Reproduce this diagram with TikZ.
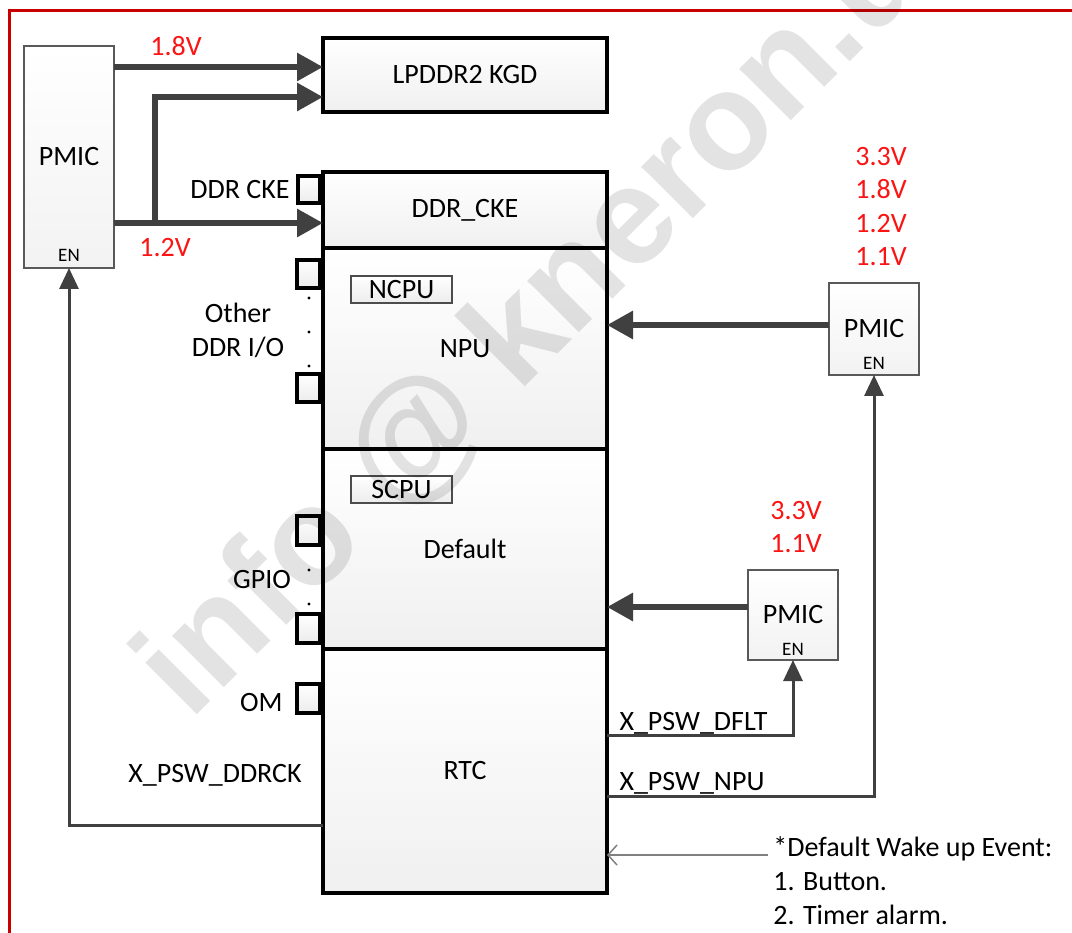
\documentclass[tikz,border=0pt]{standalone}
\usepackage{fontspec}
\setmainfont{Carlito}
\newfontfamily\wmfont{Liberation Sans}
\usepackage{tikz}
\usetikzlibrary{arrows.meta,positioning}

\definecolor{wire}{RGB}{64,64,64}
\definecolor{framered}{RGB}{200,0,0}
\definecolor{voltred}{RGB}{250,20,20}

\begin{document}
\begin{tikzpicture}[x=1pt, y=-1pt, thick]
    % Stili
    \tikzstyle{block}=[rectangle, draw=black, line width=4.5pt, top color=white, bottom color=gray!12, minimum width=284pt, inner sep=0pt, outer sep=0pt, font=\fontsize{28}{34}\selectfont]
    \tikzstyle{pinbox}=[rectangle, draw=black, line width=3.5pt, top color=white, bottom color=gray!15, minimum width=23pt, minimum height=28pt, inner sep=0pt, outer sep=0pt]
    \tikzstyle{cpubox}=[rectangle, draw=black!70, line width=2pt, top color=white, bottom color=gray!15, minimum width=101pt, minimum height=27pt, inner sep=0pt, font=\fontsize{28}{34}\selectfont]
    \tikzstyle{pmic}=[rectangle, draw=black!65, line width=2pt, top color=white, bottom color=gray!10, minimum width=90pt, inner sep=0pt, outer sep=0pt, font=\fontsize{28}{34}\selectfont]
    \tikzstyle{en}=[inner sep=0pt, font=\fontsize{19}{22}\selectfont]
    \tikzstyle{tag}=[inner sep=0pt, font=\fontsize{28}{34}\selectfont]
    \tikzstyle{volt}=[inner sep=0pt, text=voltred, align=center, font=\fontsize{28}{33.3}\selectfont]
    \tikzstyle{pwr}=[-{Triangle[length=26pt,width=27pt]}, draw=wire, line width=6pt]
    \tikzstyle{sig}=[-{Triangle[length=21pt,width=19pt]}, draw=wire, line width=3pt]
    \tikzstyle{note}=[-{Straight Barb[length=9pt,width=20pt]}, draw=gray, line width=1.5pt]

    \useasboundingbox (0,0) rectangle (1072,933);

    % Cornice
    \draw[framered, line width=3pt] (9,933) -- (9,11) -- (1072,11);

    % Blocchi principali
    \node[block, minimum height=74pt] (lpddr) at (465,75) {LPDDR2 KGD};
    \node[block, minimum height=76pt] (cke) at (465,210) {DDR\_CKE};
    \node[block, minimum height=201pt, below=0pt of cke] (npu) {NPU};
    \node[block, minimum height=200pt, below=0pt of npu] (dflt) {Default};
    \node[block, minimum height=244pt, below=0pt of dflt] (rtc) {RTC};
    \node[cpubox, anchor=north west] (ncpu) at ([shift={(27pt,-27pt)}]npu.north west) {NCPU};
    \node[cpubox, anchor=north west] (scpu) at ([shift={(27pt,-26pt)}]dflt.north west) {SCPU};

    % PMIC
    \node[pmic, minimum height=222pt] (pmicL) at (69,157) {PMIC};
    \node[pmic, minimum height=92pt] (pmicN) at (874,329) {PMIC};
    \node[pmic, minimum height=90pt] (pmicD) at (793,615) {PMIC};
    \node[en, above=6pt of pmicL.south] (enL) {EN};
    \node[en, above=5pt of pmicN.south] (enN) {EN};
    \node[en, above=4pt of pmicD.south] (enD) {EN};

    % Pin
    \node[pinbox, minimum width=22pt, minimum height=27pt] (pinCke) at (309,189.5) {};
    \node[pinbox] (pinDdrA) at (308.5,274) {};
    \node[pinbox, below=86pt of pinDdrA] (pinDdrB) {};
    \node[pinbox, minimum height=29pt] (pinGpioA) at (308.5,530.5) {};
    \node[pinbox, minimum height=29pt, below=69pt of pinGpioA] (pinGpioB) {};
    \node[pinbox, minimum height=29pt, below=41pt of pinGpioB] (pinOm) {};
    \foreach \y in {298,332,366,570,604}
        \fill (309,\y) circle (1.6pt);

    % Etichette
    \node[tag, left=8pt of pinCke] (lCke) {DDR CKE};
    \node[tag, align=center] (lDdr) at (238,330) {Other\\DDR I/O};
    \node[tag] (lGpio) at (262,580) {GPIO};
    \node[tag, left=14pt of pinOm, yshift=-4pt] (lOm) {OM};
    \node[tag] (lDdrck) at (215,775) {X\_PSW\_DDRCK};
    \node[volt] (v18) at (176,46) {1.8V};
    \node[volt] (v12) at (165,248) {1.2V};
    \node[volt, above=17pt of pmicN, xshift=7pt] (vN) {3.3V\\1.8V\\1.2V\\1.1V};
    \node[volt, above=17pt of pmicD, xshift=3pt] (vD) {3.3V\\1.1V};
    \node[tag, align=left, anchor=north west] (wake) at (773,836) {*Default Wake up Event:\\1. Button.\\2. Timer alarm.};

    % Collegamenti
    \coordinate (a18) at ([yshift=8pt]lpddr.west);
    \coordinate (a12) at ([yshift=-22pt]lpddr.west);
    \coordinate (c12) at ([yshift=-13pt]cke.west);
    \coordinate (split) at ([xshift=41pt]pmicL.east |- c12);
    \coordinate (sN) at ([yshift=4pt]pmicN.west);
    \coordinate (sD) at ([yshift=8pt]pmicD.west);
    \coordinate (wk) at (768,855);
    \draw[pwr] (pmicL.east |- a18) -- (a18);
    \draw[pwr] (split) |- (a12);
    \draw[pwr] (pmicL.east |- c12) -- (c12);
    \draw[pwr] (sN) -- (sN -| npu.east);
    \draw[pwr] (sD) -- (sD -| dflt.east);
    \draw[sig] ([yshift=-54pt]rtc.west) -| (pmicL.south);
    \draw[sig] ([yshift=36pt]rtc.east) node[tag, anchor=base west, xshift=11pt, yshift=5pt] (lDflt) {X\_PSW\_DFLT} -| (pmicD.south);
    \draw[sig] ([yshift=-25pt]rtc.east) node[tag, anchor=base west, xshift=11pt, yshift=6pt] (lNpu) {X\_PSW\_NPU} -| (pmicN.south);
    \draw[note] (wk) -- (wk -| rtc.east);

    % Filigrana
    \begin{scope}
        \clip (0,0) rectangle (1072,933);
        \node[rotate=45, anchor=base west, inner sep=0pt, text=black, text opacity=0.11, font=\wmfont\fontsize{138}{138}\selectfont\bfseries] (wm) at (190,722) {info @ kneron.us};
    \end{scope}
\end{tikzpicture}
\end{document}
